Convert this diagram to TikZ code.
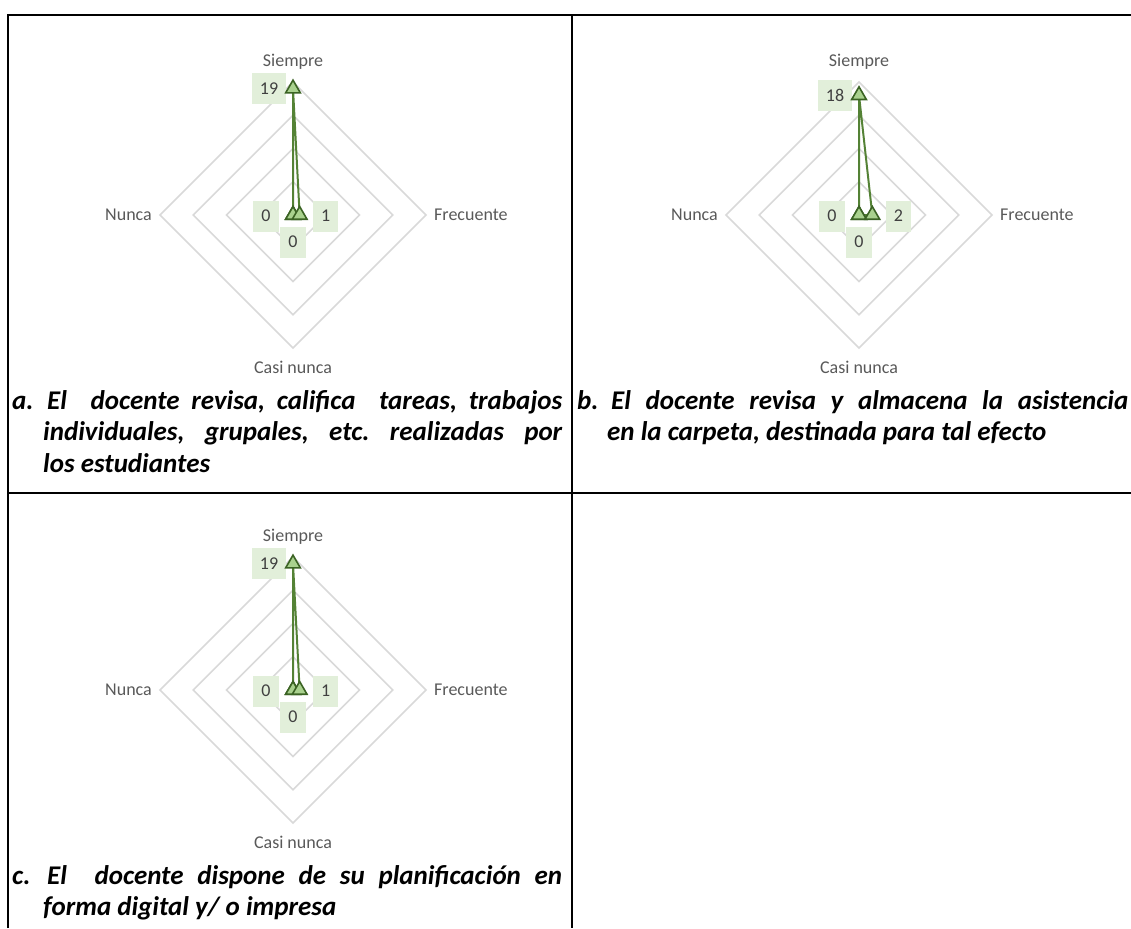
\documentclass[tikz,border=0pt]{standalone}
\usepackage{fontspec}
\setmainfont{Carlito}
\frenchspacing
\usetikzlibrary{shapes.geometric}
\definecolor{gridc}{HTML}{D9D9D9}
\definecolor{linec}{HTML}{548235}
\definecolor{mkfill}{HTML}{A9D18E}
\definecolor{mkdraw}{HTML}{3B6324}
\definecolor{lblbg}{HTML}{E2EFDA}
\definecolor{lbltxt}{HTML}{404040}
\definecolor{cattxt}{HTML}{595959}
\tikzset{
 gridline/.style={draw=gridc, line width=1.5pt},
 series/.style={draw=linec, line width=2pt, line join=round},
 mk/.style={regular polygon, regular polygon sides=3, minimum size=17pt, inner sep=0pt, fill=mkfill, draw=mkdraw, line width=1.6pt},
 dlbl/.style={fill=lblbg, text=lbltxt, font=\fontsize{18}{20}\selectfont, minimum width=25pt, minimum height=31pt, inner xsep=8pt, inner ysep=0pt},
 cat/.style={text=cattxt, font=\fontsize{18}{20}\selectfont, inner sep=0pt},
 captxt/.style={font=\fontsize{27}{28}\selectfont\bfseries\itshape, inner sep=0pt, anchor=base west},
 tbl/.style={line width=2.8pt, draw=black, line join=miter},
}
\newcommand{\radarchart}[5]{%
 \foreach \r in {33.25,66.5,99.75,133}
   \draw[gridline] (#2,#3-\r) -- (#2+\r,#3) -- (#2,#3+\r) -- (#2-\r,#3) -- cycle;
 \coordinate (#1S) at (#2,#3-133*#4/20);
 \coordinate (#1F) at (#2+133*#5/20,#3);
 \coordinate (#1C) at (#2,#3);
 \coordinate (#1N) at (#2,#3);
 \draw[series] (#1S) -- (#1F) -- (#1C) -- (#1N) -- cycle;
 \node[dlbl] (#1Sl) at (#2-24,#3-133*#4/20) {#4};
 \node[dlbl] (#1Nl) at (#2-27,#3+1) {0};
 \node[dlbl] (#1Fl) at (#2+133*#5/20+26,#3+1) {#5};
 \node[dlbl] (#1Cl) at (#2,#3+27) {0};
 \node[mk] (#1Nm) at (#1N) {};
 \node[mk] (#1Cm) at (#1C) {};
 \node[mk] (#1Fm) at (#1F) {};
 \node[mk] (#1Sm) at (#1S) {};
 \node[cat] (#1cs) at (#2,#3-153) {Siempre};
 \node[cat, anchor=east] (#1cn) at (#2-141,#3) {Nunca};
 \node[cat, anchor=west] (#1cf) at (#2+141,#3) {Frecuente};
 \node[cat] (#1cc) at (#2,#3+152) {Casi nunca};
}
\begin{document}
\begin{tikzpicture}[x=1pt,y=-1pt]
\useasboundingbox (0,0) rectangle (1131,928);
% table
\coordinate (tA) at (8,928);
\coordinate (tB) at (8,15);
\coordinate (tC) at (1131,15);
\coordinate (tD) at (572,15);
\coordinate (tE) at (572,928);
\coordinate (tF) at (8,493);
\coordinate (tG) at (1131,493);
\draw[tbl] (tA) -- (tB) -- (tC);
\draw[tbl] (tD) -- (tE);
\draw[tbl] (tF) -- (tG);
% charts
\radarchart{a}{293}{215}{19}{1}
\radarchart{b}{859}{215}{18}{2}
\radarchart{c}{293}{690}{19}{1}
% captions
\node[captxt] (capa1) at (12,409) {a.};
\node[captxt] (capa2) at (47,409) {\makebox[515pt][s]{El\ \ docente revisa, califica\ \ tareas, trabajos}};
\node[captxt] (capa3) at (43,440) {\makebox[519pt][s]{individuales, grupales, etc. realizadas por}};
\node[captxt] (capa4) at (43,472) {los estudiantes};
\node[captxt] (capb1) at (577,409) {b.};
\node[captxt] (capb2) at (611,409) {\makebox[517pt][s]{El docente revisa y almacena la asistencia}};
\node[captxt] (capb3) at (607,440) {en la carpeta, destinada para tal efecto};
\node[captxt] (capc1) at (12,884) {c.};
\node[captxt] (capc2) at (47,884) {\makebox[515pt][s]{El\ \ docente dispone de su planificación en}};
\node[captxt] (capc3) at (43,915) {forma digital y/ o impresa};
\end{tikzpicture}
\end{document}
